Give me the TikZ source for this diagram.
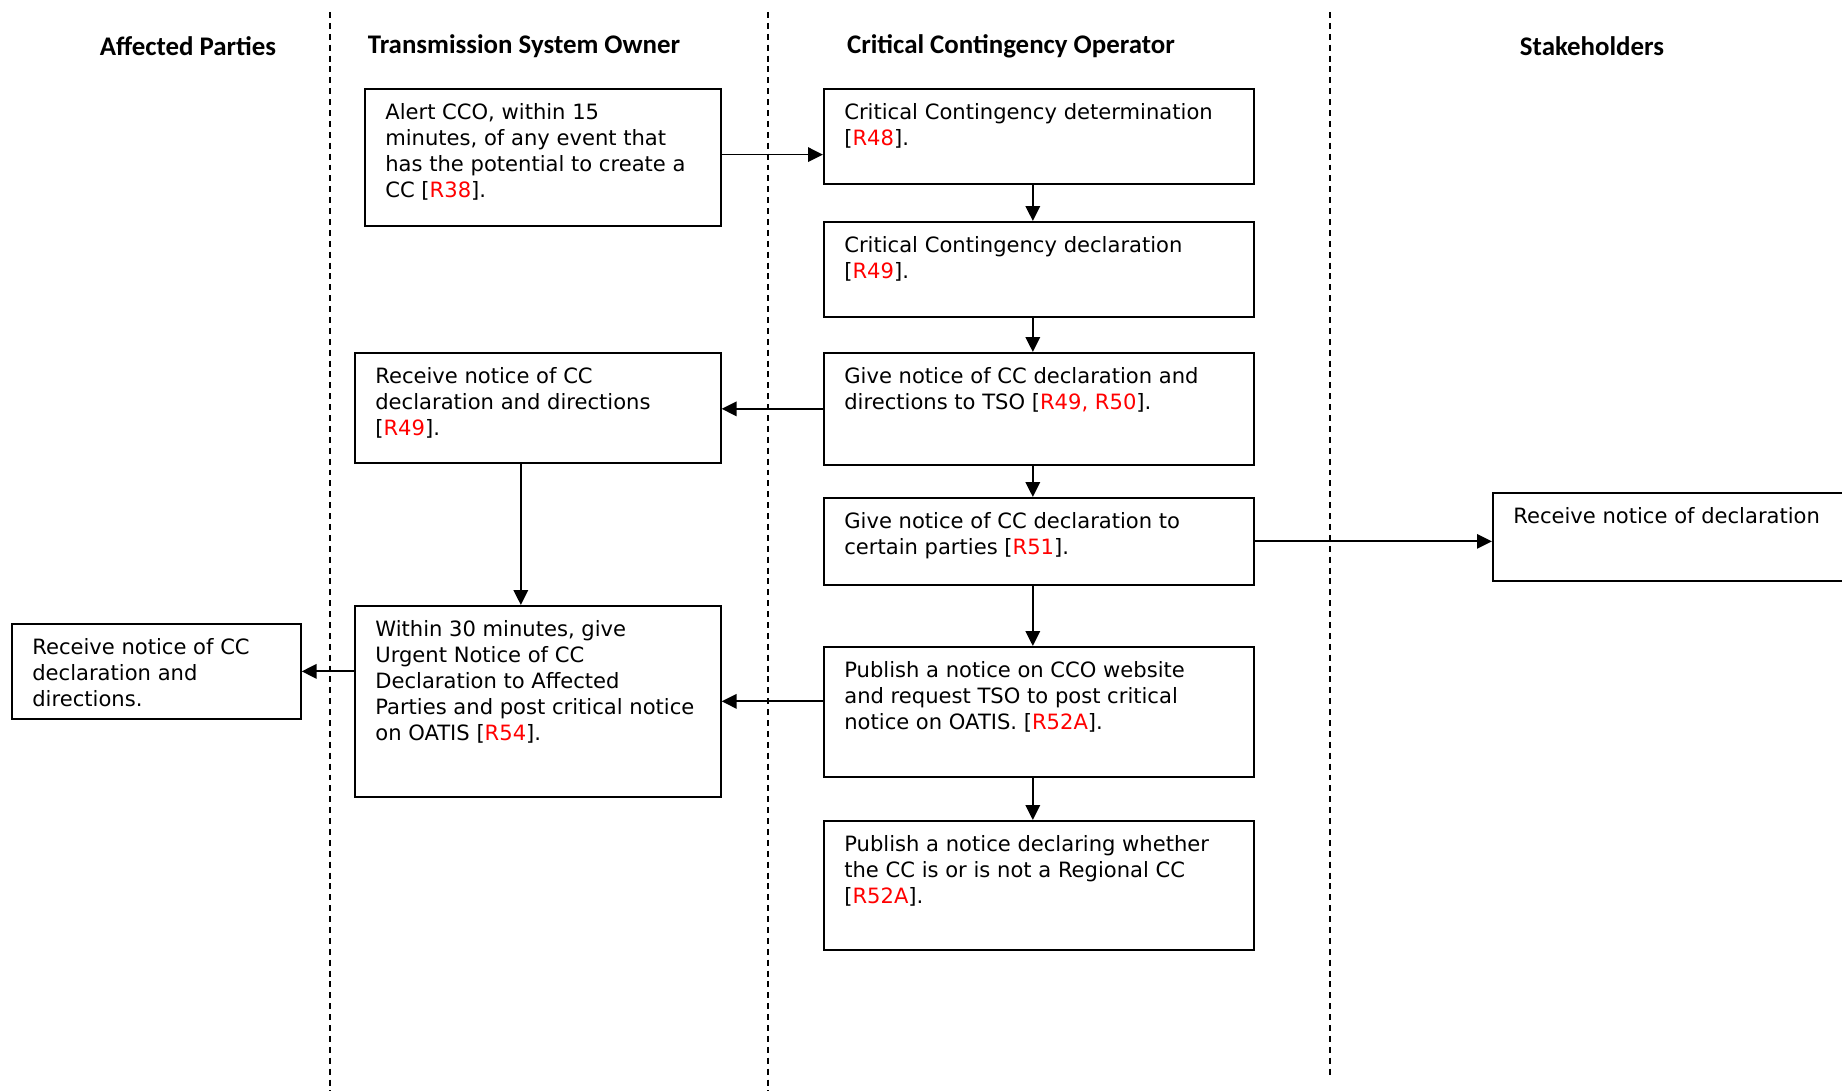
\documentclass[tikz,border=0pt]{standalone}
\usepackage{fontspec}
\setmainfont{DejaVu Sans}
\newfontfamily\headfont{Carlito}
\usetikzlibrary{positioning, arrows.meta, calc}

\newcommand{\rref}[1]{[\textcolor{red}{#1}]}

\begin{document}
\begin{tikzpicture}[
    x=0.02cm, y=-0.02cm,
    lane/.style={line width=0.6pt, dash pattern=on 3.4pt off 2.8pt},
    header/.style={font=\headfont\fontsize{15.3}{17}\selectfont\bfseries},
    stepbox/.style={draw, line width=1pt, anchor=north west, inner sep=0pt},
    txt/.style={anchor=north west, align=left, inner xsep=0.42cm, inner ysep=0.31cm,
                font=\fontsize{12}{14.7}\selectfont},
    arr/.style={line width=1pt, -{Triangle[length=0.3cm, width=0.29cm]}}
]
    \useasboundingbox (0,0) rectangle (1842,1091);

    % swimlane separators
    \coordinate (s1t) at (330,12);   \coordinate (s1b) at (330,1091);
    \coordinate (s2t) at (768,12);   \coordinate (s2b) at (768,1091);
    \coordinate (s3t) at (1330,12);  \coordinate (s3b) at (1330,1078);
    \draw[lane] (s1t) -- (s1b);
    \draw[lane] (s2t) -- (s2b);
    \draw[lane] (s3t) -- (s3b);

    \node[header] (hap)  at (188,46)  {Affected Parties};
    \node[header] (htso) at (524,46)  {Transmission System Owner};
    \node[header] (hcco) at (1011,46) {Critical Contingency Operator};
    \node[header] (hsh)  at (1592,46) {Stakeholders};

    % Transmission System Owner
    \node[stepbox, minimum width=7.12cm, minimum height=2.75cm] (alert) at (364,88) {};
    \node[txt] (alertt) at (alert.north west)
        {Alert CCO, within 15\\ minutes, of any event that\\ has the potential to create a\\ CC \rref{R38}.};
    \node[stepbox, minimum width=7.32cm, minimum height=2.2cm] (tso2) at (354,352) {};
    \node[txt] (tso2t) at (tso2.north west)
        {Receive notice of CC\\ declaration and directions\\ \rref{R49}.};
    \node[stepbox, minimum width=7.32cm, minimum height=3.82cm] (tso3) at (354,605) {};
    \node[txt] (tso3t) at (tso3.north west)
        {Within 30 minutes, give\\ Urgent Notice of CC\\ Declaration to Affected\\ Parties and post critical notice\\ on OATIS \rref{R54}.};

    % Critical Contingency Operator
    \node[stepbox, minimum width=8.6cm, minimum height=1.9cm] (c1) at (823,88) {};
    \node[txt] (c1t) at (c1.north west)
        {Critical Contingency determination\\ \rref{R48}.};
    \node[stepbox, minimum width=8.6cm, minimum height=1.9cm] (c2) at (823,221) {};
    \node[txt] (c2t) at (c2.north west)
        {Critical Contingency declaration\\ \rref{R49}.};
    \node[stepbox, minimum width=8.6cm, minimum height=2.24cm] (c3) at (823,352) {};
    \node[txt] (c3t) at (c3.north west)
        {Give notice of CC declaration and\\ directions to TSO \rref{R49, R50}.};
    \node[stepbox, minimum width=8.6cm, minimum height=1.74cm] (c4) at (823,497) {};
    \node[txt] (c4t) at (c4.north west)
        {Give notice of CC declaration to\\ certain parties \rref{R51}.};
    \node[stepbox, minimum width=8.6cm, minimum height=2.6cm] (c5) at (823,646) {};
    \node[txt] (c5t) at (c5.north west)
        {Publish a notice on CCO website\\ and request TSO to post critical\\ notice on OATIS. \rref{R52A}.};
    \node[stepbox, minimum width=8.6cm, minimum height=2.58cm] (c6) at (823,820) {};
    \node[txt] (c6t) at (c6.north west)
        {Publish a notice declaring whether\\ the CC is or is not a Regional CC\\ \rref{R52A}.};

    % Affected Parties / Stakeholders
    \node[stepbox, minimum width=5.78cm, minimum height=1.9cm] (ap) at (11,623) {};
    \node[txt] (apt) at (ap.north west)
        {Receive notice of CC\\ declaration and\\ directions.};
    \node[stepbox, minimum width=8cm, minimum height=1.76cm] (sh) at (1492,492) {};
    \node[txt] (sht) at (sh.north west) {Receive notice of declaration};

    % flow
    \draw[arr] ([yshift=0.06cm]alert.east) -- ([yshift=0.06cm]alert.east -| c1.west);
    \foreach \a/\b in {c1/c2, c2/c3, c3/c4, c4/c5, c5/c6}
        \draw[arr] ([xshift=-0.12cm]\a.south) -- ([xshift=-0.12cm]\b.north);
    \draw[arr] (c3.west) -- (c3.west -| tso2.east);
    \draw[arr] ([xshift=-0.34cm]tso2.south) -- ([xshift=-0.34cm]tso2.south |- tso3.north);
    \draw[arr] (c4.east) -- (c4.east -| sh.west);
    \draw[arr] (c5.west |- tso3.east) -- (tso3.east);
    \draw[arr] (tso3.west |- ap.east) -- (ap.east);
\end{tikzpicture}
\end{document}
